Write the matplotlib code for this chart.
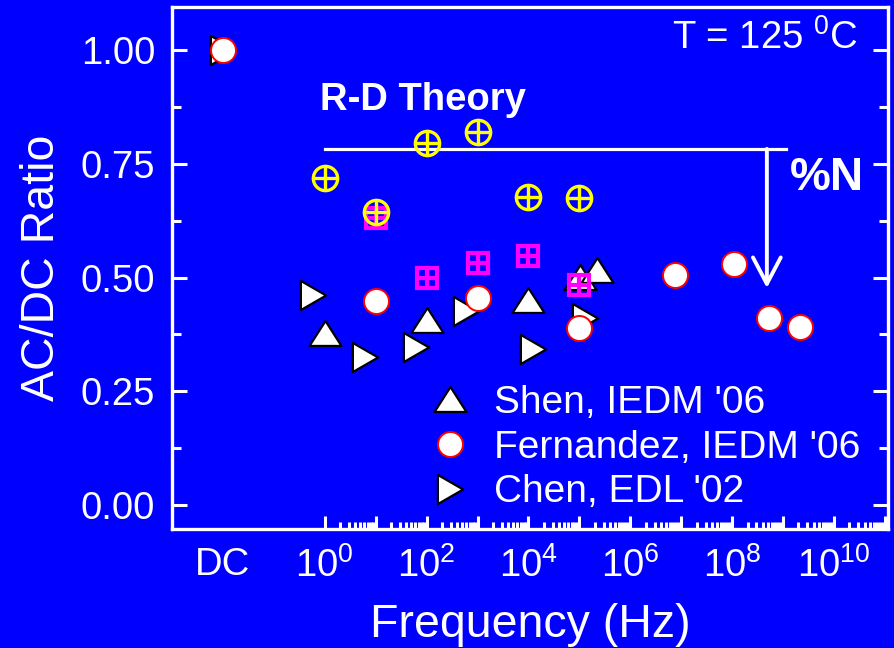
import numpy as np
import matplotlib

matplotlib.use("Agg")
import matplotlib.pyplot as plt
from matplotlib.markers import MarkerStyle
from matplotlib.path import Path
from matplotlib.ticker import FixedLocator, NullFormatter

# ---- DATA (AC/DC ratio vs. stress frequency, Hz) --------------------------
DC_X = 1e-2  # where the DC column sits on the frequency axis

shen_freq = [1, 100, 1e4, 1.05e5, 2.2e5]
shen_ratio = [0.377, 0.407, 0.451, 0.502, 0.517]

fern_dc = 1.0
fern_freq = [10, 1e3, 1e5, 7.5e6, 1.07e8, 5.4e8, 2.1e9]
fern_ratio = [0.449, 0.456, 0.388, 0.505, 0.530, 0.410, 0.392]

chen_dc = 1.0
chen_freq = [0.6, 6.3, 62, 600, 1.23e4, 1.26e5]
chen_ratio = [0.462, 0.325, 0.348, 0.426, 0.343, 0.410]

# unlabelled model points
rd_freq = [1, 10, 100, 1e3, 1e4, 1e5]
rd_ratio = [0.719, 0.645, 0.795, 0.820, 0.678, 0.676]

sq_freq = [10, 100, 1e3, 1e4, 1e5]
sq_ratio = [0.630, 0.500, 0.531, 0.548, 0.484]

rd_level = 0.783
rd_span = (1, 1.15e9)
arrow_x = 4.8e8
arrow_tip = 0.477

x_major = [DC_X] + [10.0 ** k for k in range(0, 12)]
x_labels = ["DC"] + [f"$10^{{{k}}}$" if k % 2 == 0 else "" for k in range(0, 12)]
y_ticks = [0.0, 0.25, 0.5, 0.75, 1.0]

# ---- STYLE ------------------------------------------------------------------
BG = "#0000FF"
plt.rcParams["font.family"] = ["Liberation Sans", "DejaVu Sans"]
plt.rcParams["mathtext.fontset"] = "custom"
plt.rcParams["mathtext.rm"] = "Liberation Sans"
plt.rcParams["mathtext.default"] = "regular"

tri_up = MarkerStyle(Path([(-1, -0.78), (1, -0.78), (0, 0.78), (-1, -0.78)], closed=True),
                     joinstyle="miter")
tri_right = MarkerStyle(Path([(-0.866, -1), (-0.866, 1), (0.866, 0), (-0.866, -1)], closed=True),
                        joinstyle="miter")

fig = plt.figure(figsize=(8.94, 6.48), dpi=100, facecolor=BG)
ax = fig.add_axes([172 / 894, 1 - 529 / 648, 716 / 894, 522 / 648])
ax.set_facecolor(BG)
ax.set_xscale("log")

# R-D theory level and the %N drop arrow
ax.plot(rd_span, [rd_level, rd_level], color="white", lw=2.3, zorder=2)
ax.annotate("", xy=(arrow_x, arrow_tip), xytext=(arrow_x, rd_level),
            arrowprops=dict(arrowstyle="->, head_length=0.95, head_width=0.5",
                            color="white", lw=2.8, mutation_scale=20,
                            shrinkA=0, shrinkB=0), zorder=2)

edge_kw = dict(ls="none", mfc="white", mec="black", mew=1.6)
circ_kw = dict(ls="none", marker="o", mfc="white", mec="red", ms=18, mew=1.4)

chen, = ax.plot([DC_X] + chen_freq, [chen_dc] + chen_ratio, marker=tri_right, ms=21,
                zorder=3, **edge_kw)
shen, = ax.plot(shen_freq, shen_ratio, marker=tri_up, ms=23, zorder=4, **edge_kw)
fern, = ax.plot([DC_X] + fern_freq, [fern_dc] + fern_ratio, zorder=5, **circ_kw)

# magenta boxed crosses
ax.plot(sq_freq, sq_ratio, ls="none", marker="s", mfc="none", mec="#FF00FF",
        ms=15, mew=3.0, zorder=6)
ax.plot(sq_freq, sq_ratio, ls="none", marker="+", mec="#FF00FF", ms=15, mew=3.0, zorder=6)

# yellow circled crosses
ax.plot(rd_freq, rd_ratio, ls="none", marker="o", mfc="none", mec="yellow",
        ms=17.5, mew=2.4, zorder=7)
ax.plot(rd_freq, rd_ratio, ls="none", marker="+", mec="yellow", ms=17.5, mew=2.4, zorder=7)

ax.set_xlim(1e-3, 10 ** 11.06)
ax.set_ylim(-0.053, 1.095)

# ---- AXES -------------------------------------------------------------------
for sp in ax.spines.values():
    sp.set_color("white")
    sp.set_linewidth(2.4)

ax.xaxis.set_major_locator(FixedLocator(x_major))
ax.set_xticklabels(x_labels)
minor = [m * 10.0 ** k for k in range(0, 12) for m in range(2, 10)]
ax.xaxis.set_minor_locator(FixedLocator(minor))
ax.xaxis.set_minor_formatter(NullFormatter())
ax.set_yticks(y_ticks)
ax.set_yticklabels([f"{v:.2f}" for v in y_ticks])
ax.yaxis.set_minor_locator(FixedLocator([0.125, 0.375, 0.625, 0.875]))

ax.tick_params(axis="both", which="both", colors="white", width=2.2, direction="in",
               labelsize=27.5, pad=12)
ax.tick_params(axis="y", which="both", left=True, right=True)
ax.tick_params(axis="y", which="major", length=11)
ax.tick_params(axis="y", which="minor", length=6.5)
ax.tick_params(axis="x", which="major", length=9.5)
ax.tick_params(axis="x", which="minor", length=5)
ax.tick_params(axis="x", which="major", pad=13)
for t in ax.xaxis.get_major_ticks()[:1]:
    t.tick1line.set_visible(False)
    t.tick2line.set_visible(False)

ax.set_xlabel("Frequency (Hz)", color="white", fontsize=33.5, labelpad=13)
ax.set_ylabel("AC/DC Ratio", color="white", fontsize=33.5, labelpad=12)

# ---- ANNOTATIONS --------------------------------------------------------------
ax.text(858 / 894, 1 - 49 / 648, "T = 125 $^{0}$C", transform=fig.transFigure,
        ha="right", va="baseline", color="white", fontsize=27.5)
ax.text(320 / 894, 1 - 100 / 648, "R-D Theory", transform=fig.transFigure,
        ha="left", va="center", color="white", fontsize=27.5, fontweight="bold")
ax.text(790 / 894, 1 - 178 / 648, "%N", transform=fig.transFigure,
        ha="left", va="center", color="white", fontsize=33, fontweight="bold")

leg = ax.legend([shen, fern, chen],
                ["Shen, IEDM '06", "Fernandez, IEDM '06", "Chen, EDL '02"],
                loc="upper left", bbox_to_anchor=(436 / 894, 1 - 385 / 648),
                bbox_transform=fig.transFigure, frameon=False, fontsize=28,
                handlelength=0.7, handletextpad=0.8, labelspacing=0.22,
                borderpad=0, borderaxespad=0)
for txt in leg.get_texts():
    txt.set_color("white")

fig.savefig("out.png", dpi=100, facecolor=BG)
